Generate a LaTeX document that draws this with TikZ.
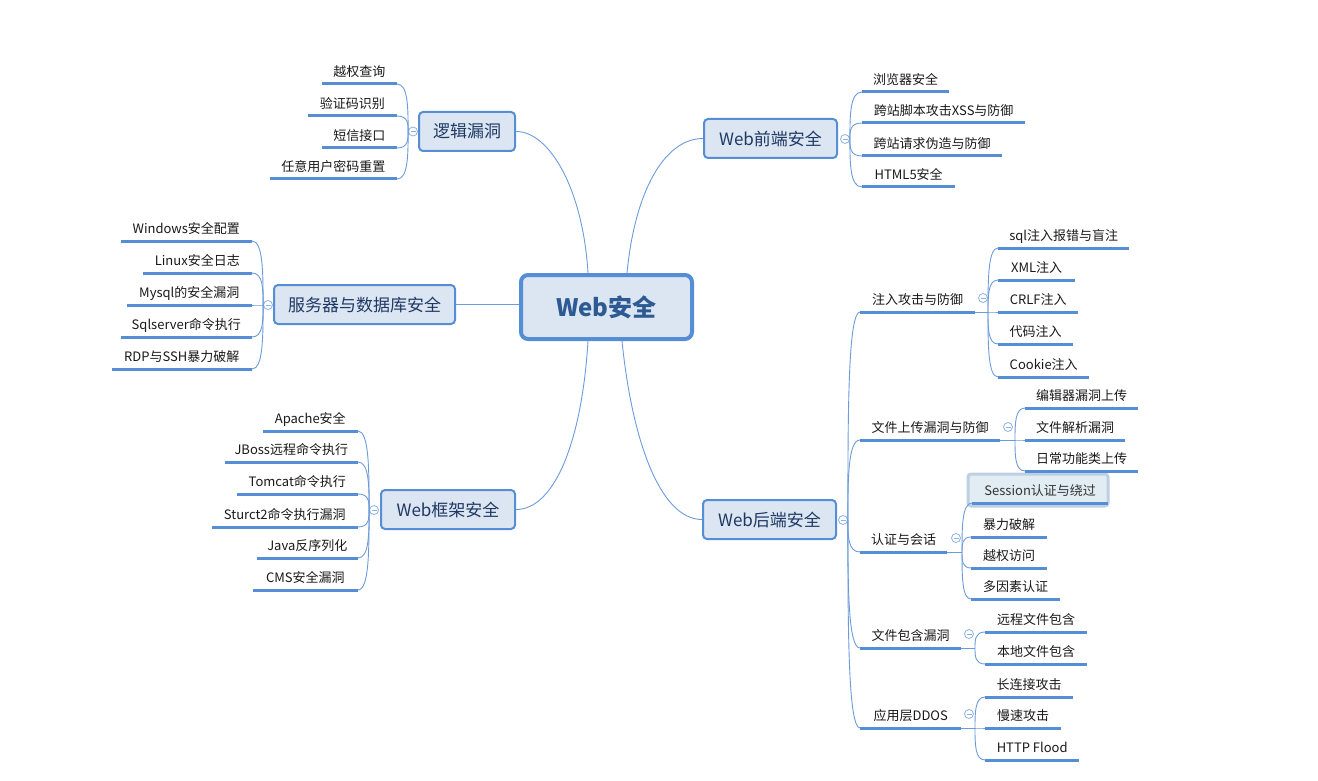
\documentclass[tikz,border=0pt]{standalone}
\usepackage{fontspec}
\setmainfont{Noto Sans CJK SC}
\usetikzlibrary{calc,backgrounds}
\definecolor{bd}{HTML}{558ED5}
\definecolor{fillc}{HTML}{DCE6F2}
\definecolor{ln}{HTML}{6C9BD9}
\definecolor{tg}{HTML}{8DB3E2}
\definecolor{maintx}{HTML}{1F3864}
\definecolor{ctx}{HTML}{2E5A94}
\definecolor{selfill}{HTML}{E1EDF3}
\definecolor{selbd}{HTML}{BCD0E2}
\newcommand\mmfan[2]{\draw[conn] (#1) .. controls ($(#1)!0.5!(#1 |- #2)$) and (#1 |- #2) .. (#2);}
\begin{document}
\begin{tikzpicture}[x=1pt,y=-1pt,
 conn/.style={draw=ln, line width=0.9pt},
 uline/.style={draw=bd, line width=3pt},
 leaf/.style={font=\fontsize{13}{15}\selectfont, text=black!90, inner xsep=4pt, inner ysep=3pt, text height=10pt, text depth=4pt, minimum width=#1,
   append after command={(\tikzlastnode.south west) edge[uline] (\tikzlastnode.south east)}},
 lleaf/.style={leaf=#1, anchor=south east},
 rleaf/.style={leaf=#1, anchor=south west},
 mainbox/.style={draw=bd, fill=fillc, line width=2pt, rounded corners=4pt, font=\fontsize{17}{20}\selectfont, text=maintx, inner sep=0pt, minimum height=39pt},
 centerbox/.style={draw=bd, fill=fillc, line width=4pt, rounded corners=7pt, font=\fontsize{24}{28}\selectfont\bfseries, text=ctx, inner sep=0pt, minimum width=171pt, minimum height=64pt},
 tog/.style={circle, draw=tg, fill=white, line width=0.8pt, minimum size=9pt, inner sep=0pt,
   path picture={\draw[tg, line width=0.8pt] ([xshift=-2.5pt]path picture bounding box.center) -- ([xshift=2.5pt]path picture bounding box.center);}}
]
\useasboundingbox (0,0) rectangle (1318,781);

% center and main topics
\node[centerbox] (c) at (606.5,307) {Web安全};
\node[mainbox, minimum width=96pt] (lj) at (467,131.5) {逻辑漏洞};
\node[mainbox, minimum width=181pt] (fw) at (364.5,304.5) {服务器与数据库安全};
\node[mainbox, minimum width=134pt] (kj) at (448,509.5) {Web框架安全};
\node[mainbox, minimum width=133pt] (qd) at (770.5,138.5) {Web前端安全};
\node[mainbox, minimum width=133pt] (hd) at (769.5,519.5) {Web后端安全};

\draw[conn] ([xshift=-18.5pt]c.north) .. controls (583,190) and (550,131.5) .. (lj.east);
\draw[conn] (fw.east -| c.west) -- (fw.east);
\draw[conn] ([xshift=-18.5pt]c.south) .. controls (582,440) and (555,509.5) .. (kj.east);
\draw[conn] ([xshift=20.5pt]c.north) .. controls (635,190) and (665,138.5) .. (qd.west);
\draw[conn] ([xshift=15.5pt]c.south) .. controls (632,440) and (660,519.5) .. (hd.west);

% toggles
\node[tog] (lj-t) at (413,131.5) {};
\node[tog] (fw-t) at (268,305) {};
\node[tog] (kj-t) at (374,510) {};
\node[tog] (qd-t) at (845,139) {};
\node[tog] (hd-t) at (843,520) {};

% 逻辑漏洞
\node[lleaf=75] (lj1) at (397,84) {越权查询};
\node[lleaf=89] (lj2) at (397,116) {验证码识别};
\node[lleaf=75] (lj3) at (397,148) {短信接口};
\node[lleaf=127] (lj4) at (397,179) {任意用户密码重置};
\foreach \n in {lj1,lj2,lj3,lj4}{\mmfan{lj-t.west}{\n.south east}}

% 服务器与数据库安全
\node[lleaf=131] (fw1) at (252,241) {Windows安全配置};
\node[lleaf=109] (fw2) at (252,273) {Linux安全日志};
\node[lleaf=125] (fw3) at (252,305) {Mysql的安全漏洞};
\node[lleaf=131] (fw4) at (252,337) {Sqlserver命令执行};
\node[lleaf=140] (fw5) at (252,369) {RDP与SSH暴力破解};
\foreach \n in {fw1,fw2,fw3,fw4,fw5}{\mmfan{fw-t.west}{\n.south east}}

% Web框架安全
\node[lleaf=95] (kj1) at (358,431) {Apache安全};
\node[lleaf=133] (kj2) at (358,462) {JBoss远程命令执行};
\node[lleaf=121] (kj3) at (358,494) {Tomcat命令执行};
\node[lleaf=146] (kj4) at (358,527) {Sturct2命令执行漏洞};
\node[lleaf=101] (kj5) at (358,558) {Java反序列化};
\node[lleaf=105] (kj6) at (358,590) {CMS安全漏洞};
\foreach \n in {kj1,kj2,kj3,kj4,kj5,kj6}{\mmfan{kj-t.west}{\n.south east}}

% Web前端安全
\node[rleaf=87] (qd1) at (862,92) {浏览器安全};
\node[rleaf=163] (qd2) at (862,123) {跨站脚本攻击XSS与防御};
\node[rleaf=140] (qd3) at (862,156) {跨站请求伪造与防御};
\node[rleaf=93] (qd4) at (862,187) {HTML5安全};
\foreach \n in {qd1,qd2,qd3,qd4}{\mmfan{qd-t.east}{\n.south west}}

% Web后端安全
\node[rleaf=115] (zr) at (860,312) {注入攻击与防御};
\node[rleaf=140] (sc) at (860,440) {文件上传漏洞与防御};
\node[rleaf=87] (rz) at (860,552) {认证与会话};
\node[rleaf=101] (bh) at (860,648) {文件包含漏洞};
\node[rleaf=101] (dd) at (860,728) {应用层DDOS};
\foreach \n in {zr,sc,rz,bh,dd}{\mmfan{hd-t.east}{\n.south west}}

\node[tog] (zr-t) at (983,298) {};
\node[tog] (sc-t) at (1008,427) {};
\node[tog] (rz-t) at (956,538) {};
\node[tog] (bh-t) at (969,634) {};
\node[tog] (dd-t) at (969,714) {};

\coordinate (zr-h) at (988,312);
\coordinate (sc-h) at (1015,440);
\coordinate (rz-h) at (962,552);
\coordinate (bh-h) at (975,648);
\coordinate (dd-h) at (975,728);
\draw[conn] (zr.south east) -- (zr-h);
\draw[conn] (sc.south east) -- (sc-h);
\draw[conn] (rz.south east) -- (rz-h);
\draw[conn] (bh.south east) -- (bh-h);
\draw[conn] (dd.south east) -- (dd-h);

% 注入攻击与防御
\node[rleaf=131] (zr1) at (998,248) {sql注入报错与盲注};
\node[rleaf=77] (zr2) at (998,280) {XML注入};
\node[rleaf=80] (zr3) at (998,312) {CRLF注入};
\node[rleaf=75] (zr4) at (998,344) {代码注入};
\node[rleaf=91] (zr5) at (998,377) {Cookie注入};
\foreach \n in {zr1,zr2,zr3,zr4,zr5}{\mmfan{zr-h}{\n.south west}}

% 文件上传漏洞与防御
\node[rleaf=113] (sc1) at (1025,408) {编辑器漏洞上传};
\node[rleaf=100] (sc2) at (1025,440) {文件解析漏洞};
\node[rleaf=113] (sc3) at (1025,471) {日常功能类上传};
\foreach \n in {sc1,sc2,sc3}{\mmfan{sc-h}{\n.south west}}

% 认证与会话
\begin{scope}[on background layer]
\draw[draw=selbd, fill=selfill, line width=3pt, rounded corners=3pt] (968,474) rectangle (1108,506);
\end{scope}
\node[rleaf=136, text=black!80] (rz1) at (972,503) {Session认证与绕过};
\node[rleaf=76] (rz2) at (971,537) {暴力破解};
\node[rleaf=76] (rz3) at (971,568) {越权访问};
\node[rleaf=89] (rz4) at (971,599) {多因素认证};
\foreach \n in {rz1,rz2,rz3,rz4}{\mmfan{rz-h}{\n.south west}}

% 文件包含漏洞
\node[rleaf=102] (bh1) at (985,632) {远程文件包含};
\node[rleaf=102] (bh2) at (985,664) {本地文件包含};
\foreach \n in {bh1,bh2}{\mmfan{bh-h}{\n.south west}}

% 应用层DDOS
\node[rleaf=88] (dd1) at (985,697) {长连接攻击};
\node[rleaf=76] (dd2) at (985,728) {慢速攻击};
\node[rleaf=94] (dd3) at (985,760) {HTTP Flood};
\foreach \n in {dd1,dd2,dd3}{\mmfan{dd-h}{\n.south west}}
\end{tikzpicture}
\end{document}
